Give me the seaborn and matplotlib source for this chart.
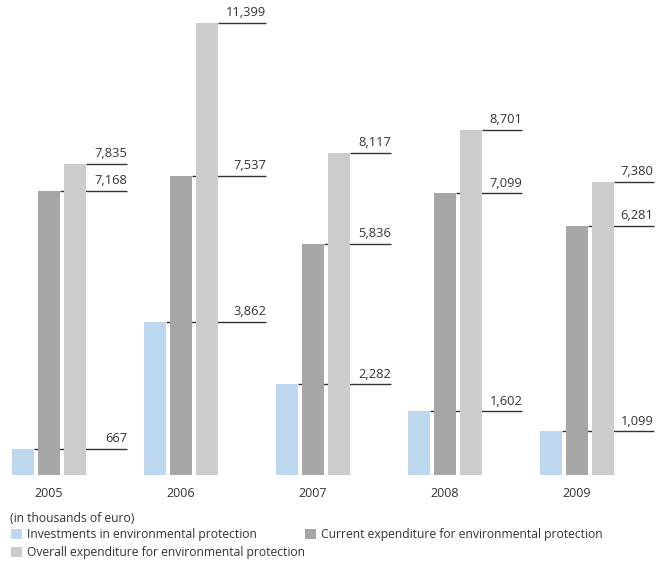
import matplotlib
matplotlib.use("Agg")
import matplotlib.pyplot as plt
from matplotlib.patches import Patch
import seaborn as sns
import pandas as pd

years = ["2005", "2006", "2007", "2008", "2009"]
investments = [667, 3862, 2282, 1602, 1099]
current = [7168, 7537, 5836, 7099, 6281]
overall = [7835, 11399, 8117, 8701, 7380]

series_names = [
    "Investments in environmental protection",
    "Current expenditure for environmental protection",
    "Overall expenditure for environmental protection",
]
colors = ["#BDD7EE", "#A6A6A6", "#CCCCCC"]

rows = []
for name, vals in zip(series_names, [investments, current, overall]):
    for y, v in zip(years, vals):
        rows.append({"year": y, "series": name, "value": v})
df = pd.DataFrame(rows)

sns.set_theme(style="white")
plt.rcParams["font.family"] = ["Open Sans", "DejaVu Sans"]
text_color = "#333333"
fs = 8.7

fig = plt.figure(figsize=(6.7, 5.66), dpi=100)
W, H = 670, 566
# axes spans the full width; baseline at y=475px
x0_px, unit_px = 49, 132
ax = fig.add_axes([0, (H - 475) / H, 1, 465 / H])

sns.barplot(data=df, x="year", y="value", hue="series", hue_order=series_names,
            palette=colors, width=0.6, gap=0.17, saturation=1, ax=ax,
            legend=False, zorder=3, linewidth=0)

ax.set_xlim(-x0_px / unit_px, (W - x0_px) / unit_px)
ax.set_ylim(0, 465 / 0.03966)

# leader lines from each bar's top edge out to the value label
offsets = [-0.2, 0.0, 0.2]
half_w = 0.2 * (1 - 0.17) / 2
line_ends = [0.59, 0.645, 0.59, 0.585, 0.58]
for off, vals in zip(offsets, [investments, current, overall]):
    for i, v in enumerate(vals):
        end = i + line_ends[i]
        ax.plot([i + off + half_w, end], [v, v], color="#333333",
                lw=1.0, zorder=2, solid_capstyle="butt")
        ax.annotate(f"{v:,}", xy=(end, v), xytext=(0, 2.8),
                    textcoords="offset points", ha="right", va="bottom",
                    fontsize=9.3, color=text_color)

for s in ax.spines.values():
    s.set_visible(False)
ax.set_yticks([])
ax.set_xlabel("")
ax.set_ylabel("")
ax.tick_params(axis="x", length=0, pad=8.5, labelsize=9, labelcolor=text_color)

fig.text(10 / W, 1 - 518 / H, "(in thousands of euro)", fontsize=fs,
         color=text_color, va="center", ha="left")

handles = [Patch(facecolor=c, edgecolor="none") for c in colors]
leg_kw = dict(loc="upper left", frameon=False, fontsize=fs, handlelength=0.9,
              handleheight=0.9, handletextpad=0.4, labelspacing=0.42,
              borderpad=0, borderaxespad=0, labelcolor=text_color)
fig.legend([handles[0], handles[2]], [series_names[0], series_names[2]],
           bbox_to_anchor=(11 / W, 1 - 528 / H), **leg_kw)
fig.legend([handles[1]], [series_names[1]],
           bbox_to_anchor=(305 / W, 1 - 528 / H), **leg_kw)

fig.savefig("out.png", dpi=100)
